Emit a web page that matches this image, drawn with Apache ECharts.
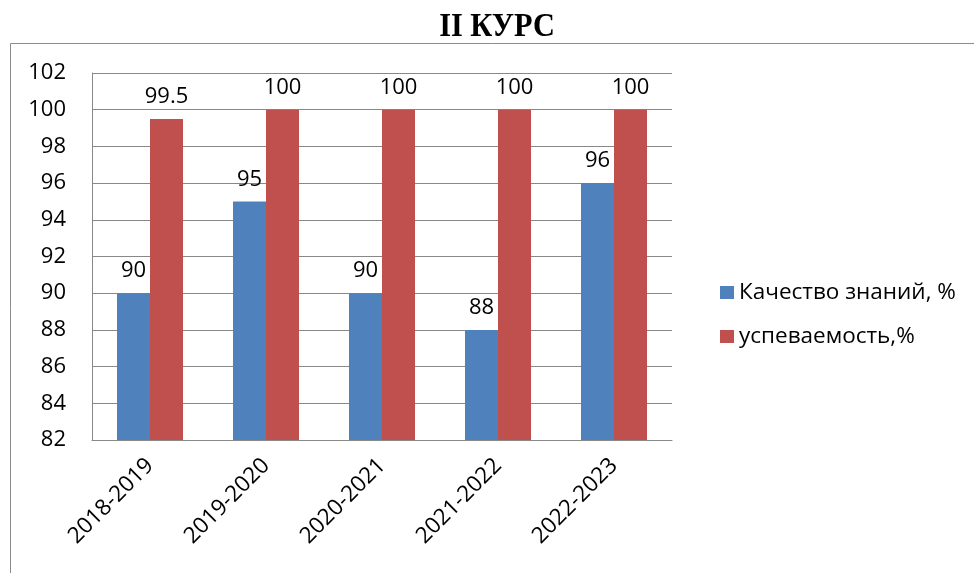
<!DOCTYPE html>
<html><head><meta charset="utf-8">
<script src="https://cdn.jsdelivr.net/npm/echarts@6/dist/echarts.min.js"></script>
<style>html,body{margin:0;padding:0;background:#fff}#c{width:974px;height:573px}</style>
</head><body><div id="c"></div>
<script>
const categories = ['2018-2019','2019-2020','2020-2021','2021-2022','2022-2023'];
const quality = [90, 95, 90, 88, 96];
const progress = [99.5, 100, 100, 100, 100];
const seriesNames = ['Качество знаний, %', 'успеваемость,%'];
const titleText = 'II КУРС';

const font = '"Open Sans", "Liberation Sans", sans-serif';
const chart = echarts.init(document.getElementById('c'));
chart.setOption({
  animation: false,
  graphic: [
    { type: 'rect', shape: { x: 10.5, y: 43.5, width: 1000, height: 600 },
      style: { fill: 'none', stroke: '#8c8c8c', lineWidth: 1 }, silent: true },
    { type: 'text', x: 497, y: 27, scaleX: 0.92,
      style: { text: titleText, font: 'bold 33px "Liberation Serif", serif', fill: '#000',
        textAlign: 'center', textVerticalAlign: 'middle' } }
  ],
  legend: { orient: 'vertical', left: 715, top: 276, itemGap: 21, itemWidth: 14, itemHeight: 13,
    icon: 'rect', textStyle: { fontFamily: font, fontSize: 22.5, color: '#000' } },
  grid: { left: 92, right: 302, top: 73, bottom: 133 },
  xAxis: { type: 'category', data: categories,
    axisLine: { lineStyle: { color: '#888' } }, axisTick: { show: false },
    axisLabel: { rotate: 45, fontFamily: font, fontSize: 22.5, color: '#000', margin: 22 } },
  yAxis: { type: 'value', min: 82, max: 102, interval: 2,
    axisLine: { show: true, lineStyle: { color: '#888' } }, axisTick: { show: false },
    splitLine: { lineStyle: { color: '#888' } },
    axisLabel: { fontFamily: font, fontSize: 22, color: '#000', margin: 26 } },
  series: [
    { name: seriesNames[0], type: 'bar', data: quality, barWidth: 33, barGap: '0%',
      itemStyle: { color: '#4F81BD' },
      label: { show: true, position: 'top', distance: 11, fontFamily: font, fontSize: 22, color: '#000' } },
    { name: seriesNames[1], type: 'bar', data: progress, barWidth: 33,
      itemStyle: { color: '#C0504D' },
      label: { show: true, position: 'top', distance: 11, fontFamily: font, fontSize: 22, color: '#000' } }
  ]
});
</script></body></html>
